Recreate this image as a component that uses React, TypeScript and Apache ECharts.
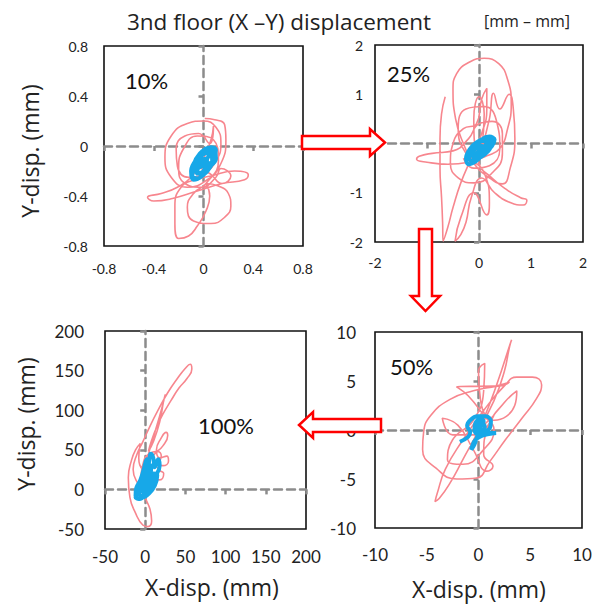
import React, { useEffect, useRef } from "react";
import * as echarts from "echarts";

const FONT = "Lato, 'Open Sans', sans-serif";
const FONT2 = "'Open Sans', Lato, sans-serif";

const panelNames = ["10%", "25%", "100%", "50%"];
const axisRanges = [
  { min: -0.8, max: 0.8, interval: 0.4 },
  { min: -2, max: 2, interval: 1 },
  { min: -50, max: 200, interval: 50 },
  { min: -10, max: 10, interval: 5 },
];

// 10% panel
const p1Pink = [
  [0.01, 0.22], [0.09, 0.21], [0.17, 0.17], [0.18, 0.05], [0.14, -0.14], [0.03, -0.27], [-0.13, -0.33],
  [-0.26, -0.25], [-0.31, -0.09], [-0.26, 0.08], [-0.13, 0.18], [0.0, 0.2],
  [0.1, 0.15], [0.14, 0.02], [0.1, -0.12], [0.0, -0.22], [-0.12, -0.25], [-0.21, -0.16], [-0.22, -0.02],
  [-0.15, 0.08], [-0.04, 0.1], [0.05, 0.02],
  [0.08, 0.16], [0.06, 0.05], [0.0, -0.1],
  [-0.1, -0.25], [-0.21, -0.33], [-0.34, -0.38], [-0.45, -0.41], [-0.4, -0.44], [-0.25, -0.42], [-0.05, -0.36],
  [0.15, -0.3], [0.33, -0.27], [0.36, -0.23], [0.25, -0.2], [0.06, -0.24],
  [-0.07, -0.27], [-0.18, -0.33], [-0.23, -0.48], [-0.23, -0.62], [-0.2, -0.74], [-0.12, -0.72], [-0.05, -0.64],
  [0.02, -0.52], [0.05, -0.4], [0.02, -0.3],
  [0.12, -0.32], [0.2, -0.38], [0.22, -0.48], [0.17, -0.57], [0.06, -0.62], [-0.08, -0.6], [-0.13, -0.49],
  [-0.08, -0.38], [0.02, -0.3],
  [0.12, -0.12], [0.08, 0.05], [-0.05, 0.08], [-0.16, -0.02], [-0.2, -0.18], [-0.15, -0.3], [-0.02, -0.33],
  [0.1, -0.25], [0.14, -0.18],
  [0.22, -0.24], [0.15, -0.3], [0.05, -0.22], [-0.08, -0.15],
];
const p1Blue = [
  [-0.05, -0.2], [0.0, -0.05], [0.06, -0.01], [0.1, -0.03], [0.08, -0.12], [0.02, -0.2], [-0.05, -0.26],
  [-0.09, -0.24], [-0.08, -0.15], [-0.03, -0.06], [0.04, -0.02], [0.09, -0.06], [0.06, -0.16], [-0.01, -0.24],
  [-0.08, -0.27], [-0.1, -0.2], [-0.05, -0.1], [0.02, -0.04], [0.08, -0.02], [0.1, -0.1], [0.03, -0.18],
  [-0.04, -0.22], [-0.07, -0.16], [-0.02, -0.08], [0.05, -0.05], [0.07, -0.12], [0.01, -0.15], [-0.05, -0.18],
  [-0.03, -0.12], [0.03, -0.1], [0.0, -0.2], [-0.06, -0.22], [-0.02, -0.14], [0.04, -0.08], [0.02, -0.02],
  [-0.03, -0.1], [-0.06, -0.2],
];

// 25% panel
const p2Pink = [
  [-0.65, 0.95], [-0.72, 0.6], [-0.75, 0.1], [-0.75, -0.5], [-0.72, -1.1], [-0.7, -1.6], [-0.69, -1.98],
  [-0.6, -1.7], [-0.5, -1.3], [-0.35, -0.8], [-0.15, -0.3], [0.05, 0.2], [0.15, 0.7], [0.15, 1.12],
  [0.05, 0.9], [-0.05, 0.4],
  [-0.3, 0.3], [-0.5, 0.0], [-0.55, -0.4], [-0.4, -0.7], [-0.1, -0.8], [0.25, -0.6], [0.45, -0.2],
  [0.45, 0.2], [0.25, 0.45], [0.0, 0.4], [-0.2, 0.1],
  [-0.5, -0.15], [-0.9, -0.2], [-1.15, -0.26], [-1.2, -0.32], [-1.0, -0.38], [-0.6, -0.42], [-0.2, -0.38],
  [0.15, -0.25],
  [0.4, -0.1], [0.55, 0.3], [0.62, 0.8], [0.55, 1.3], [0.38, 1.62], [0.1, 1.73], [-0.17, 1.66],
  [-0.43, 1.42], [-0.5, 1.1], [-0.45, 0.5], [-0.3, 0.0], [-0.1, -0.4], [0.2, -0.7], [0.45, -0.82],
  [0.6, -0.5], [0.69, 0.1], [0.66, 0.7], [0.58, 1.0],
  [0.4, 0.7], [0.28, 1.02], [0.2, 0.5], [0.05, -0.1], [0.1, 0.6], [0.0, 0.95], [-0.1, 0.5],
  [0.0, -0.4], [0.25, -0.7], [0.55, -0.95], [0.8, -1.1], [0.92, -1.15], [0.85, -1.25], [0.6, -1.2],
  [0.3, -1.0], [0.05, -0.7],
  [-0.15, -1.1], [-0.25, -1.6], [-0.35, -1.85], [-0.46, -1.98], [-0.35, -1.5], [-0.1, -1.0], [0.15, -1.45],
  [0.2, -1.2], [0.1, -0.6],
  [-0.25, -0.2], [-0.4, 0.3], [-0.25, 0.7], [0.1, 0.75], [0.35, 0.4], [0.4, -0.1], [0.2, -0.45],
  [-0.1, -0.5], [-0.3, -0.3],
];
const p2Blue = [
  [-0.1, -0.1], [0.05, 0.08], [0.2, 0.14], [0.3, 0.08], [0.25, -0.05], [0.1, -0.2], [-0.05, -0.35],
  [-0.2, -0.42], [-0.25, -0.3], [-0.18, -0.12], [-0.05, 0.02], [0.12, 0.1], [0.25, 0.02], [0.18, -0.15],
  [0.0, -0.3], [-0.15, -0.35], [-0.2, -0.2], [-0.1, -0.05], [0.08, 0.05], [0.2, -0.02], [0.1, -0.12],
  [-0.05, -0.22], [-0.15, -0.25], [-0.08, -0.12], [0.05, -0.05], [0.12, -0.08], [0.0, -0.15],
  [-0.12, -0.3], [-0.05, -0.28], [0.05, -0.18], [0.15, 0.0],
];

// 100% panel
const p3Pink = [
  [0, -10], [-8, 5], [-15, 25], [-10, 45], [-3, 60], [6, 80], [16, 100], [28, 122], [40, 140], [50, 153],
  [56, 158], [58, 152], [52, 140], [42, 128], [32, 112], [22, 95], [14, 78], [8, 62], [4, 48], [10, 60],
  [18, 85], [23, 112], [25, 120], [20, 100], [12, 72], [5, 48], [0, 30],
  [12, 45], [22, 55], [28, 68], [26, 72], [20, 65], [14, 50], [18, 40], [27, 42], [29, 36], [22, 30],
  [12, 32], [18, 24], [23, 20], [18, 12], [8, 15],
  [0, 20], [-8, 40], [-6, 58], [-12, 50], [-17, 37], [-21, 15], [-19, -10], [-12, -30], [-3, -45],
  [3, -47], [8, -40], [6, -25], [0, -10], [-5, 10], [-2, 35], [5, 45], [15, 48], [20, 42], [12, 30],
  [2, 20], [-5, 8],
];
const p3Blue = [
  [-5, 0], [0, 15], [4, 30], [7, 45], [10, 40], [12, 28], [16, 38], [18, 30], [12, 15], [6, 0], [0, -8],
  [-7, -12], [-12, -8], [-11, 2], [-6, 12], [-2, 25], [2, 38], [5, 28], [3, 12], [-3, 0], [-9, -5],
  [-12, -10], [-8, -12], [-2, -6], [5, 8], [10, 20], [15, 18], [12, 5], [5, -5], [-3, -10], [-8, -3],
  [-4, 8], [2, 22], [8, 32], [6, 18], [0, 4],
];

// 50% panel
const p4Pink = [
  [0, 0], [1.5, 3], [2.5, 6], [3.0, 8.5], [3.2, 9.2], [3.0, 8.6], [2.2, 6], [1.2, 3], [0, 0], [-1.5, -3],
  [-2.8, -5.5], [-3.8, -7.0], [-4.2, -7.3], [-4.0, -6.5], [-3.2, -4], [-1.5, -1], [0.5, 2], [2.5, 4.5],
  [3.7, 5.4], [5.2, 5.4], [6.1, 4.6], [5.6, 3.2], [4.2, 1.2], [2.6, -1.0], [1.1, -3.2], [-0.2, -4.9],
  [-2.1, -5.0], [-4.1, -3.9], [-5.4, -2], [-5.3, -0.2], [-4.6, 1.5], [-2.8, 3.1], [-0.5, 4], [1.8, 4.5],
  [3.0, 4.9], [2.0, 4.5], [-2.1, 4.4], [-1.0, 3.5], [0.5, 1.5], [1.5, 0], [0.5, -2], [-1.5, -3.5],
  [-3.0, -3.0], [-2.5, -1.0], [-0.5, 1.0], [0.5, 4], [0.6, 6.8], [0.0, 6.0], [0.2, 3], [1.5, 1],
  [3.5, 2.5], [3.7, 4.0], [2.5, 2.8], [1.0, 0.5], [0.5, -2.5], [1.4, -3.7], [0.8, -4.2], [-0.5, -2],
  [-2.0, 0.5], [-3.5, 1.2], [-2.5, -0.5], [-0.5, -0.5], [1.5, 1.5], [0, 0],
];
const p4Blue = [
  [-1.8, -1.2], [-1.0, -0.7], [-0.8, -0.2], [-1.1, 0.4], [-0.8, 1.0], [-0.1, 1.4], [0.7, 1.4], [1.2, 0.9],
  [1.1, 0.2], [0.7, -0.2], [1.2, -0.3], [1.7, -0.3], [1.0, -0.4], [0.3, -0.6], [-0.3, -1.0], [-0.6, -1.6],
  [-0.7, -2.0], [-0.4, -1.5], [-0.1, -0.6], [0.2, 0.3], [0.5, 0.9], [0.2, 1.1], [-0.3, 0.7], [-0.4, 0.0],
  [0.0, -0.5], [0.5, -0.3], [0.6, 0.4], [0.2, 0.7], [-0.2, 0.3], [0.1, -0.2], [0.4, 0.2],
];

const pinkSeries = [p1Pink, p2Pink, p3Pink, p4Pink];
const blueSeries = [p1Blue, p2Blue, p3Blue, p4Blue];

const grids = [
  { left: 104, top: 46, width: 199, height: 200 },
  { left: 375, top: 45, width: 208, height: 197 },
  { left: 105, top: 331, width: 201, height: 198 },
  { left: 375, top: 332, width: 207, height: 196 },
];
const labelFont = [14, 14, 17, 17];
const yLabelMargin = [16, 12, 21, 19];
const xLabelMargin = [15, 13, 19, 18];

const PINK = "#F7868E";
const BLUE = "#17A8E8";
const GRAY = "#8C8C8C";
const RED = "#FF0000";

export default function App() {
  const ref = useRef<HTMLDivElement>(null);
  useEffect(() => {
    if (!ref.current) return;
    const chart = echarts.init(ref.current, undefined, { renderer: "svg" });
    const xAxis: any[] = [];
    const yAxis: any[] = [];
    const series: any[] = [];
    grids.forEach((g, i) => {
      const r = axisRanges[i];
      const labelAxis = (dim: string) => ({
        type: "value",
        gridIndex: i,
        min: r.min,
        max: r.max,
        interval: r.interval,
        position: dim === "x" ? "bottom" : "left",
        axisLine: { show: false, onZero: false },
        axisTick: { show: false },
        splitLine: { show: false },
        axisLabel: {
          fontSize: labelFont[i],
          fontFamily: FONT,
          color: "#222",
          margin: dim === "x" ? xLabelMargin[i] : yLabelMargin[i],
          formatter: (v: number) => (i === 1 && dim === "x" && v === -1 ? "" : String(v)),
        },
      });
      const zeroAxis = (dim: string) => ({
        type: "value",
        gridIndex: i,
        min: r.min,
        max: r.max,
        interval: r.interval,
        position: dim === "x" ? "bottom" : "left",
        axisLine: { show: true, onZero: true, lineStyle: { color: GRAY, width: 2.5, type: [8, 5] } },
        axisTick: { show: true, length: 5, lineStyle: { color: GRAY, width: 2.5 } },
        splitLine: { show: false },
        axisLabel: { show: false },
      });
      xAxis.push(labelAxis("x"), zeroAxis("x"));
      yAxis.push(labelAxis("y"), zeroAxis("y"));
      series.push({
        type: "line",
        xAxisIndex: 2 * i,
        yAxisIndex: 2 * i,
        data: pinkSeries[i],
        showSymbol: false,
        smooth: 0.5,
        lineStyle: { color: PINK, width: 1.6 },
        z: 3,
      });
      series.push({
        type: "line",
        xAxisIndex: 2 * i,
        yAxisIndex: 2 * i,
        data: blueSeries[i],
        showSymbol: false,
        smooth: 0.4,
        lineStyle: { color: BLUE, width: 4 },
        z: 4,
      });
    });

    const pctPos = [
      [125, 80],
      [387, 73],
      [198, 425],
      [390, 366],
    ];

    const arrowStyle = { fill: "#fff", stroke: RED, lineWidth: 2.5 };
    const nameStyle = { fontSize: 23, fontFamily: FONT2, fill: "#222", align: "center", verticalAlign: "middle" };

    chart.setOption({
      animation: false,
      textStyle: { fontFamily: FONT },
      grid: grids.map((g) => ({
        ...g,
        show: true,
        borderColor: "#111",
        borderWidth: 1.6,
        backgroundColor: "transparent",
        containLabel: false,
        outerBoundsMode: "none",
      })),
      xAxis,
      yAxis,
      series,
      graphic: [
        {
          type: "text",
          x: 279,
          y: 21,
          style: { text: "3nd floor (X \u2013Y) displacement", fontSize: 22.5, fontFamily: FONT2, fill: "#222", align: "center", verticalAlign: "middle" },
        },
        {
          type: "text",
          x: 527,
          y: 21,
          style: { text: "[mm \u2013 mm]", fontSize: 16, fontFamily: FONT2, fill: "#222", align: "center", verticalAlign: "middle" },
        },
        ...panelNames.map((t, i) => ({
          type: "text",
          x: pctPos[i][0],
          y: pctPos[i][1],
          style: { text: t, fontSize: 22, fontFamily: FONT, fill: "#111", align: "left", verticalAlign: "middle" },
          z: 10,
        })),
        { type: "text", x: 30, y: 151, rotation: Math.PI / 2, style: { ...nameStyle, text: "Y-disp. (mm)" } },
        { type: "text", x: 26, y: 424, rotation: Math.PI / 2, style: { ...nameStyle, text: "Y-disp. (mm)" } },
        { type: "text", x: 212, y: 587, style: { ...nameStyle, text: "X-disp. (mm)" } },
        { type: "text", x: 479, y: 589, style: { ...nameStyle, text: "X-disp. (mm)" } },
        {
          type: "polygon",
          z: 50,
          shape: { points: [[302, 136], [370, 136], [370, 129], [385, 142.5], [370, 156], [370, 149], [302, 149]] },
          style: arrowStyle,
        },
        {
          type: "polygon",
          z: 50,
          shape: { points: [[419, 229], [432, 229], [432, 296], [440, 296], [425.5, 311], [411, 296], [419, 296]] },
          style: arrowStyle,
        },
        {
          type: "polygon",
          z: 50,
          shape: { points: [[381, 419], [313, 419], [313, 412], [299, 425], [313, 438], [313, 432], [381, 432]] },
          style: arrowStyle,
        },
      ],
    });
    return () => chart.dispose();
  }, []);
  return <div ref={ref} style={{ position: "absolute", left: 0, top: 0, width: 600, height: 604, background: "#fff" }} />;
}
